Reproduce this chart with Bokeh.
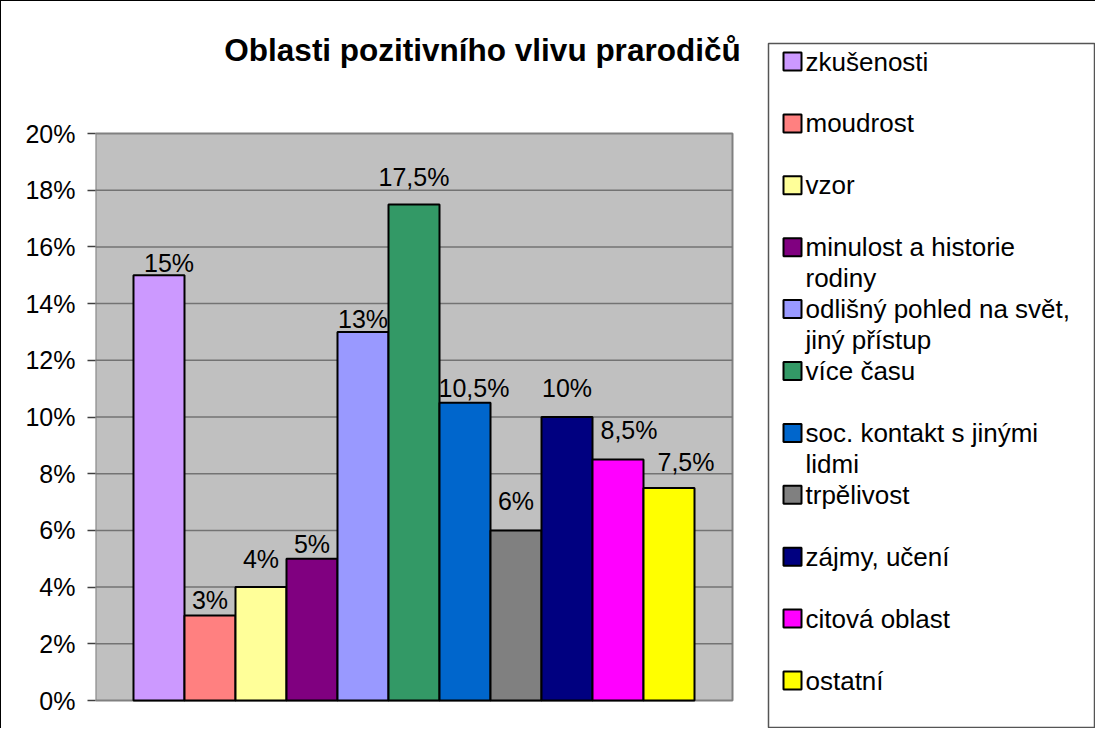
from bokeh.plotting import figure
from bokeh.models import ColumnDataSource, Range1d, FixedTicker, NumeralTickFormatter
from bokeh.core.properties import value
from bokeh.embed import file_html
from bokeh.resources import INLINE

# ---------------- data ----------------
title_text = "Oblasti pozitivního vlivu prarodičů"
categories = [
    "zkušenosti",
    "moudrost",
    "vzor",
    "minulost a historie\nrodiny",
    "odlišný pohled na svět,\njiný přístup",
    "více času",
    "soc. kontakt s jinými\nlidmi",
    "trpělivost",
    "zájmy, učení",
    "citová oblast",
    "ostatní",
]
values_pct = [15, 3, 4, 5, 13, 17.5, 10.5, 6, 10, 8.5, 7.5]
colors = ["#CC99FF", "#FF8080", "#FFFF99", "#800080", "#9999FF", "#339966",
          "#0066CC", "#808080", "#000080", "#FF00FF", "#FFFF00"]
y_ticks = [0.00, 0.02, 0.04, 0.06, 0.08, 0.10, 0.12, 0.14, 0.16, 0.18, 0.20]

# label placement styling (pixel nudges, as in the original rendering)
label_dx = [10, 0, 0, 0, 0, 0, 9, 0, 0, 11, 17]
label_lift = [3, 6, 19, 6, 4, 18, 6, 20, 20, 21, 17]

FONT = "Liberation Sans"

# ---------------- page geometry (pixels) ----------------
CANVAS_L, CANVAS_T, CANVAS_R, CANVAS_B = 9, 9, 1104, 737
PA_L, PA_T, PA_R, PA_B = 103, 141, 740, 708      # plot area
GAP = 1.245                                        # category gap (bar units)
n = len(values_pct)
x_lo, x_hi = -GAP, n - 1 + GAP
y_lo, y_hi = 0.0, 0.2
sx = (PA_R - PA_L) / (x_hi - x_lo)
sy = (PA_B - PA_T) / (y_hi - y_lo)
xr = Range1d(x_lo, x_hi + (CANVAS_R - PA_R) / sx)
yr = Range1d(y_lo - (CANVAS_B - PA_B) / sy, y_hi + (PA_T - CANVAS_T) / sy)

labels = [f"{v:g}".replace(".", ",") + "%" for v in values_pct]
src = ColumnDataSource(dict(
    x=list(range(n)),
    top=[v / 100 for v in values_pct],
    color=colors,
    label=labels,
    dx=label_dx,
    dy=[-(d + 9) for d in label_lift],
))

p = figure(width=CANVAS_R - CANVAS_L, height=CANVAS_B - CANVAS_T,
           x_range=xr, y_range=yr, title=None,
           x_axis_location=None,
           output_backend="svg", toolbar_location=None,
           min_border_left=PA_L - CANVAS_L, min_border_right=0,
           min_border_top=0, min_border_bottom=0,
           background_fill_color="white", border_fill_color="white",
           outline_line_color=None)
p.styles = {"border-top": "1px solid black", "border-left": "1px solid black"}
p.extra_x_ranges = {"px": Range1d(PA_L, CANVAS_R)}
p.extra_y_ranges = {"px": Range1d(CANVAS_B, CANVAS_T)}

p.xgrid.visible = False
p.ygrid.visible = False
for g in p.grid:
    g.visible = False

# plot area
p.quad(left=x_lo, right=x_hi, bottom=y_lo, top=y_hi,
       fill_color="#C0C0C0", line_color="#808080", line_width=2)
# horizontal grid lines at the ticks
p.segment(x0=[x_lo] * (len(y_ticks) - 2), x1=[x_hi] * (len(y_ticks) - 2),
          y0=y_ticks[1:-1], y1=y_ticks[1:-1],
          line_color="#737373", line_width=1.5)

p.yaxis.ticker = FixedTicker(ticks=y_ticks)
p.yaxis.formatter = NumeralTickFormatter(format="0%")
p.yaxis.axis_line_color = None
p.yaxis.major_tick_line_color = "#404040"
p.yaxis.major_tick_line_width = 1.5
p.yaxis.major_tick_out = 8
p.yaxis.major_tick_in = 0
p.yaxis.minor_tick_line_color = None
p.yaxis.major_label_text_font = FONT
p.yaxis.major_label_text_font_size = "25px"
p.yaxis.major_label_text_color = "black"
p.yaxis.major_label_standoff = 12

p.vbar(x="x", top="top", bottom=0, width=1, source=src,
       fill_color="color", line_color="black", line_width=2)

p.text(x="x", y="top", text="label", source=src,
       x_offset="dx", y_offset="dy",
       text_align="center", text_baseline="middle",
       text_font=value(FONT), text_font_size="25px", text_color="black")

# title
p.text(x=[490], y=[57], text=[title_text], x_range_name="px", y_range_name="px",
       text_align="center", text_baseline="middle",
       text_font=value(FONT), text_font_size="31.5px", text_font_style="bold",
       text_color="black")

# ---------------- legend ----------------
p.quad(left=776, right=1102, top=51, bottom=735, x_range_name="px", y_range_name="px",
       fill_color="white", line_color="#555555", line_width=1.5)

leg_y = [69 + 61.9 * i for i in range(len(categories))]
leg = ColumnDataSource(dict(
    x=[800] * len(categories), y=leg_y, tx=[813] * len(categories),
    ty=[yy - 15 for yy in leg_y],
    color=colors, name=categories,
))
p.rect(x="x", y="y", width=18, height=18, source=leg,
       x_range_name="px", y_range_name="px",
       fill_color="color", line_color="black", line_width=2)
p.text(x="tx", y="ty", text="name", source=leg,
       x_range_name="px", y_range_name="px",
       text_align="left", text_baseline="top", text_line_height=1.04,
       text_font=value(FONT), text_font_size="26px", text_color="black")

open("out.html", "w").write(file_html(p, INLINE))
